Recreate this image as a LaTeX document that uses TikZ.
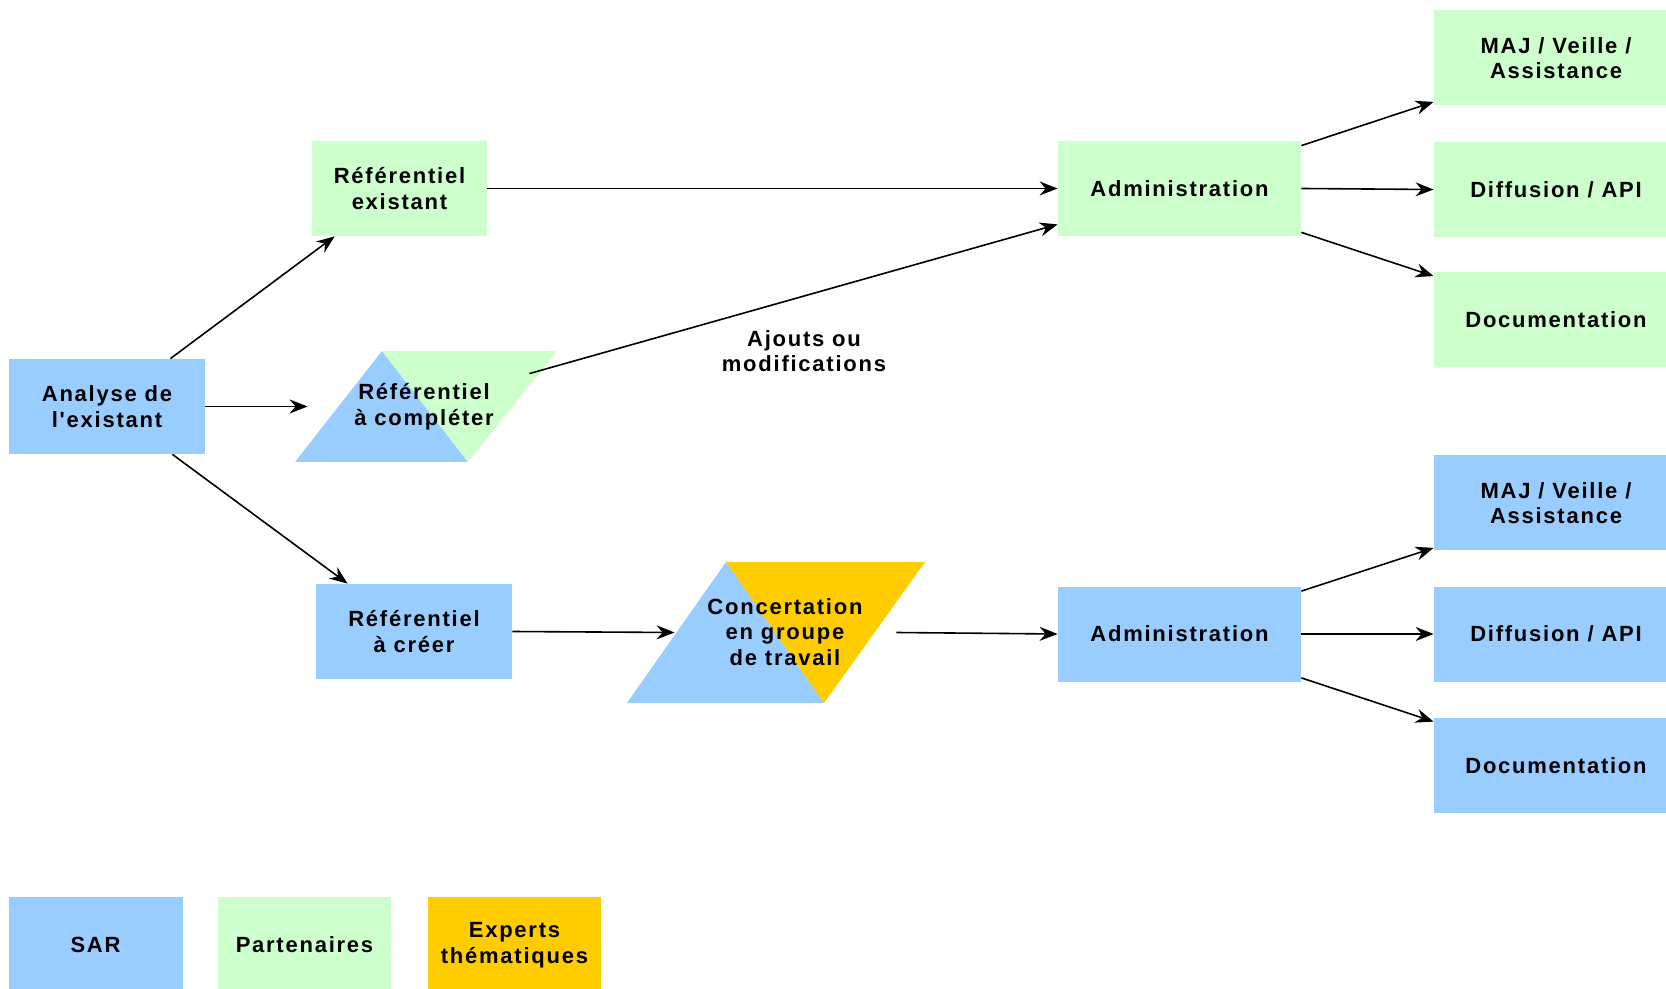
\documentclass[tikz,border=0pt]{standalone}
\usepackage{fontspec}
\newfontfamily\lab{Liberation Sans}[LetterSpace=8]
\usetikzlibrary{arrows.meta}
\definecolor{sarblue}{HTML}{99CCFF}
\definecolor{pargreen}{HTML}{CCFFCC}
\definecolor{expyellow}{HTML}{FFCC00}
\tikzset{
  txt/.style={align=center, inner sep=0pt, text=black,
    font=\lab\bfseries\fontsize{11pt}{12.75pt}\selectfont},
  box/.style={txt, minimum height=47.5pt},
  bluebox/.style={box, fill=sarblue},
  greenbox/.style={box, fill=pargreen},
  yellowbox/.style={box, fill=expyellow},
  arr/.style={line width=0.8pt, -{Stealth[length=9pt,width=7pt,inset=3pt]}},
}
\begin{document}
\begin{tikzpicture}[x=0.5pt,y=-0.5pt]
\useasboundingbox (0,0) rectangle (1666,989);
\clip (0,0) rectangle (1666,989);
% parallelogram shapes
\fill[sarblue] (295,462) -- (382,351) -- (468,462) -- cycle;
\fill[pargreen] (382,351) -- (557,351) -- (468,462) -- cycle;
\fill[sarblue] (627,703) -- (726,562) -- (824,703) -- cycle;
\fill[expyellow] (726,562) -- (925,562) -- (824,703) -- cycle;
% nodes
\node[bluebox, minimum width=98pt] (an) at (107,406.5) {Analyse de\\l'existant};
\node[greenbox, minimum width=87.5pt] (re) at (399.5,188.5) {Référentiel\\existant};
\node[txt, minimum width=131pt, minimum height=55.5pt] (rc) at (424,406.5) {Référentiel\\à compléter};
\node[bluebox, minimum width=98pt] (rcr) at (414,631.5) {Référentiel\\à créer};
\node[minimum width=149pt, minimum height=70.5pt, inner sep=0pt] (cg) at (776,632.5) {};
\node[txt] (cgt) at (785,632) {Concertation\\en groupe\\de travail};
\node[greenbox, minimum width=121.5pt] (ad1) at (1179.5,188.5) {Administration};
\node[bluebox, minimum width=121.5pt] (ad2) at (1179.5,634) {Administration};
\node[greenbox, minimum width=122pt] (m1) at (1556,58) {MAJ / Veille /\\Assistance};
\node[greenbox, minimum width=122pt] (d1) at (1556,189.5) {Diffusion / API};
\node[greenbox, minimum width=122pt] (do1) at (1556,320) {Documentation};
\node[bluebox, minimum width=122pt] (m2) at (1556,503) {MAJ / Veille /\\Assistance};
\node[bluebox, minimum width=122pt] (d2) at (1556,634) {Diffusion / API};
\node[bluebox, minimum width=122pt] (do2) at (1556,765.5) {Documentation};
\node[txt] (lab) at (804,351) {Ajouts ou\\modifications};
% legend
\node[bluebox, minimum width=87pt, minimum height=48pt] (sar) at (95.5,945) {SAR};
\node[greenbox, minimum width=86.5pt, minimum height=48pt] (par) at (304.5,945) {Partenaires};
\node[yellowbox, minimum width=86.5pt, minimum height=48pt] (exp) at (514.5,945) {Experts\\thématiques};
% connectors
\draw[arr] ([xshift=-17.5pt]an.north east) -- ([xshift=11.5pt]re.south west);
\draw[arr] (an.east) -- ([xshift=7.5pt]rc.west);
\draw[arr] ([xshift=-16.5pt]an.south east) -- ([xshift=16pt]rcr.north west);
\draw[arr] (re.east) -- (ad1.west);
\draw[arr] ([xshift=-13pt,yshift=-11.5pt]rc.north east) -- ([yshift=6pt]ad1.south west);
\draw[arr] (rcr.east) -- ([xshift=24pt]cg.west);
\draw[arr] ([xshift=-14.5pt]cg.east) -- (ad2.west);
\draw[arr] ([yshift=-2.5pt]ad1.north east) -- ([yshift=2pt]m1.south west);
\draw[arr] (ad1.east) -- (d1.west);
\draw[arr] ([yshift=2pt]ad1.south east) -- ([yshift=-2pt]do1.north west);
\draw[arr] ([yshift=-2.5pt]ad2.north east) -- ([yshift=1.5pt]m2.south west);
\draw[arr] (ad2.east) -- (d2.west);
\draw[arr] ([yshift=2pt]ad2.south east) -- ([yshift=-2pt]do2.north west);
\end{tikzpicture}
\end{document}
